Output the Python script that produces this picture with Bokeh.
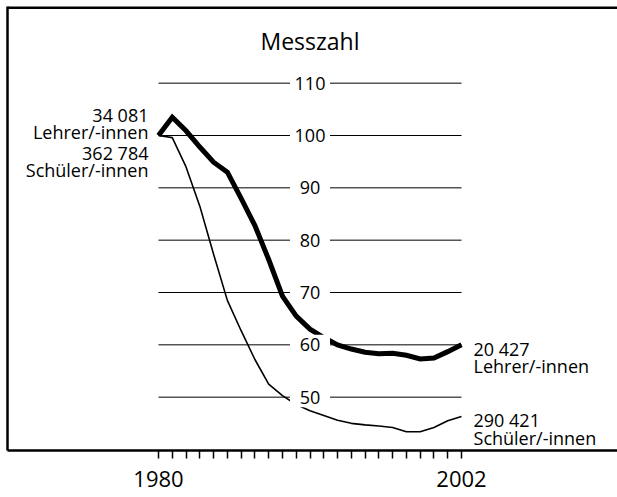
from bokeh.plotting import figure
from bokeh.models import Range1d, LinearAxis, FixedTicker
from bokeh.core.properties import value
from bokeh.embed import file_html
from bokeh.resources import INLINE

# ---- data ----
years = list(range(1980, 2003))
lehrer = [100, 103.5, 100.9, 97.8, 94.9, 93.0, 88.0, 82.8, 76.3, 69.3, 65.5, 63.0,
          61.4, 60.0, 59.2, 58.6, 58.3, 58.4, 58.0, 57.3, 57.5, 58.7, 60.0]
schueler = [100, 99.6, 94.0, 86.5, 77.3, 68.5, 62.7, 57.2, 52.5, 50.3, 48.6, 47.4,
            46.5, 45.6, 45.0, 44.7, 44.5, 44.2, 43.4, 43.4, 44.2, 45.5, 46.3]
grid_values = [50, 60, 70, 80, 90, 100, 110]
grid_labels = ["50", "60", "70", "80", "90", "100", "110"]
title_text = "Messzahl"
year_labels = {1980: "1980", 2002: "2002"}
left_labels = ["34 081", "Lehrer/-innen", "362 784", "Schüler/-innen"]
right_lehrer = ["20 427", "Lehrer/-innen"]
right_schueler = ["290 421", "Schüler/-innen"]

FONT = "Open Sans"
W, H = 617, 497
LEFT, TOP, BOTTOM = 7, 6, 47
X0, X1 = 1969.037, 2013.326
Y0, Y1 = 39.81, 124.65

p = figure(width=W, height=H, output_backend="svg", toolbar_location=None,
           x_axis_type=None, y_axis_type=None,
           x_range=Range1d(X0, X1), y_range=Range1d(Y0, Y1),
           min_border_left=LEFT, min_border_right=0, min_border_top=TOP,
           min_border_bottom=BOTTOM)
p.outline_line_color = None
p.background_fill_color = "white"
p.border_fill_color = "white"

xpx = (W - LEFT) / (X1 - X0)
ypx = (H - TOP - BOTTOM) / (Y1 - Y0)

def dy(px):
    """screen pixels (down positive) -> data units offset"""
    return -px / ypx

# box border on the left: bare axis without ticks or labels
ax = LinearAxis(ticker=FixedTicker(ticks=[]))
ax.axis_line_color = "black"
ax.axis_line_width = 2.5
ax.major_tick_in = 0
ax.major_tick_out = 0
ax.minor_tick_in = 0
ax.minor_tick_out = 0
ax.major_tick_line_color = None
ax.minor_tick_line_color = None
ax.major_label_standoff = 0
ax.major_label_text_font_size = "0px"
p.add_layout(ax, "left")

# box border on top: drawn as a filled bar across the frame
bw_y = 2.5 / ypx
p.quad(left=[X0], right=[X1], bottom=[Y1 - bw_y], top=[Y1 + 1],
       fill_color="black", line_color=None)

# bottom axis with yearly ticks
xaxis = LinearAxis(ticker=FixedTicker(ticks=years),
                   major_label_overrides={yr: year_labels.get(yr, "") for yr in years})
xaxis.axis_line_color = "black"
xaxis.axis_line_width = 2.5
xaxis.major_tick_in = 0
xaxis.major_tick_out = 8
xaxis.major_tick_line_width = 1.5
xaxis.major_tick_line_color = "black"
xaxis.minor_tick_line_color = None
xaxis.major_label_text_font = FONT
xaxis.major_label_text_font_size = "22px"
xaxis.major_label_text_color = "black"
xaxis.major_label_standoff = 12
p.add_layout(xaxis, "below")

n = len(grid_values)
mid = (years[0] + years[-1]) / 2

# gridlines
p.segment(x0=[years[0]] * n, x1=[years[-1]] * n, y0=grid_values, y1=grid_values,
          line_color="black", line_width=1)

# data lines
p.line(years, schueler, line_color="black", line_width=1.6)
p.line(years, lehrer, line_color="black", line_width=5, line_join="miter")

# label backgrounds
p.rect(x=[mid] * n, y=grid_values, width=40, height=20,
       width_units="screen", height_units="screen",
       fill_color="white", line_color=None)
p.text(x=[mid] * n, y=grid_values, text=grid_labels,
       text_font=value(FONT), text_font_size="18px", text_color="black",
       text_align="center", text_baseline="middle")

# title
p.text(x=[mid], y=[grid_values[-1] + dy(-42)], text=[title_text],
       text_font=value(FONT), text_font_size="23px", text_color="black",
       text_align="center", text_baseline="middle")

# left labels (centres relative to the 1980 start point)
left_off = [-21, -4, 17.5, 34]
p.text(x=[years[0]] * 4, y=[lehrer[0] + dy(o) for o in left_off], text=left_labels,
       x_offset=-10,
       text_font=value(FONT), text_font_size="18px", text_color="black",
       text_align="right", text_baseline="middle")

# right labels (centres relative to the 2002 end points)
right_off = [4, 21]
p.text(x=[years[-1]] * 2, y=[lehrer[-1] + dy(o) for o in right_off], text=right_lehrer,
       x_offset=12,
       text_font=value(FONT), text_font_size="18px", text_color="black",
       text_align="left", text_baseline="middle")
right_off2 = [3.5, 21.8]
p.text(x=[years[-1]] * 2, y=[schueler[-1] + dy(o) for o in right_off2], text=right_schueler,
       x_offset=12,
       text_font=value(FONT), text_font_size="18px", text_color="black",
       text_align="left", text_baseline="middle")

open("out.html", "w").write(file_html(p, INLINE))
